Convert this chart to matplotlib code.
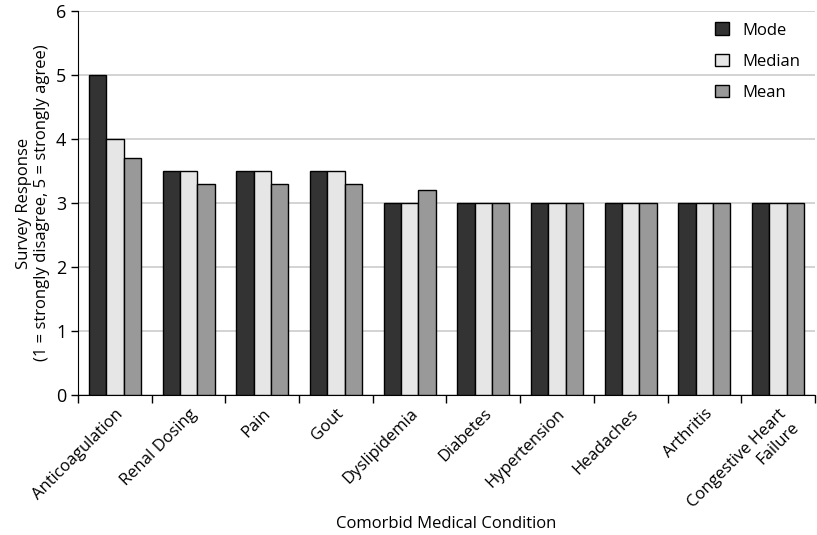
import numpy as np
import matplotlib
matplotlib.use("Agg")
from matplotlib import pyplot as plt

conditions = ["Anticoagulation", "Renal Dosing", "Pain", "Gout", "Dyslipidemia",
              "Diabetes", "Hypertension", "Headaches", "Arthritis",
              "Congestive Heart\nFailure"]
mode = [5, 3.5, 3.5, 3.5, 3, 3, 3, 3, 3, 3]
median = [4, 3.5, 3.5, 3.5, 3, 3, 3, 3, 3, 3]
mean = [3.7, 3.3, 3.3, 3.3, 3.2, 3, 3, 3, 3, 3]

plt.rcParams['font.family'] = ['Open Sans', 'DejaVu Sans']

fig = plt.figure(figsize=(8.17, 5.35), dpi=100)
ax = fig.add_axes([0.0955, 0.262, 0.902, 0.717])

x = np.arange(len(conditions))
w = 0.235
ax.bar(x - w, mode, w, color="#333333", edgecolor="black", linewidth=1, label="Mode", zorder=3)
ax.bar(x, median, w, color="#e6e6e6", edgecolor="black", linewidth=1, label="Median", zorder=3)
ax.bar(x + w, mean, w, color="#999999", edgecolor="black", linewidth=1, label="Mean", zorder=3)

ax.set_xlim(-0.5, len(conditions) - 0.5)
ax.set_ylim(0, 6)
ax.set_yticks(range(7))
ax.yaxis.grid(True, color="#cccccc", linewidth=1.2, zorder=0)
ax.tick_params(axis="y", labelsize=13, length=5, width=1)

ax.set_xticks(np.arange(len(conditions) + 1) - 0.5)
ax.set_xticklabels([])
ax.tick_params(axis="x", which="major", length=6, width=1, direction="out")
ax.set_xticks(x, minor=True)
ax.set_xticklabels(conditions, minor=True, rotation=45, ha="right",
                   rotation_mode="anchor", fontsize=12)
ax.tick_params(axis="x", which="minor", length=0, pad=8)

for s in ["top", "right"]:
    ax.spines[s].set_visible(False)

ax.set_ylabel("Survey Response\n(1 = strongly disagree, 5 = strongly agree)", fontsize=12)
ax.set_xlabel("Comorbid Medical Condition", fontsize=12)
ax.xaxis.set_label_coords(0.5, -0.316)

ax.legend(loc="upper right", frameon=False, fontsize=12, handlelength=0.8,
          handleheight=0.8, labelspacing=0.9, bbox_to_anchor=(1.0, 1.01))

fig.savefig("out.png", dpi=100)
